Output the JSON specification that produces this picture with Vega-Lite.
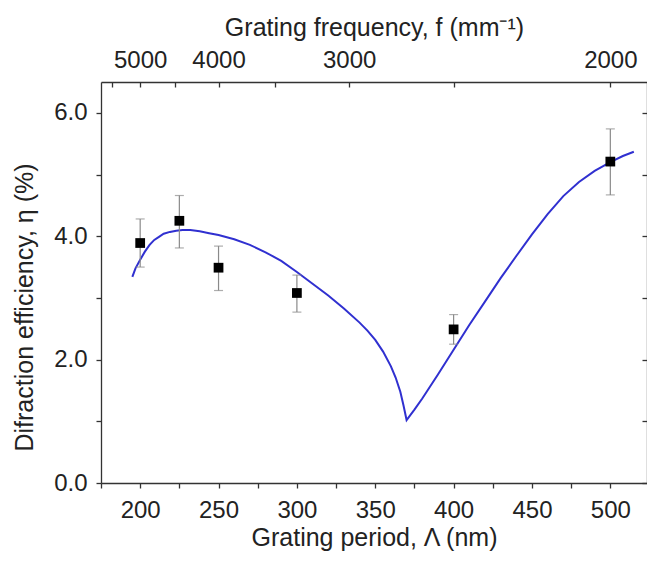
{
  "$schema": "https://vega.github.io/schema/vega-lite/v6.json",
  "autosize": {"type": "none"},
  "width": 546,
  "height": 401,
  "padding": {"left": 101, "top": 82, "right": 0, "bottom": 84},
  "background": "white",
  "config": {
    "view": {"stroke": null},
    "font": "Liberation Sans",
    "axis": {
      "labelFont": "Liberation Sans",
      "titleFont": "Liberation Sans",
      "labelFontSize": 24,
      "titleFontSize": 25,
      "titleFontWeight": "normal",
      "labelColor": "#222",
      "titleColor": "#222",
      "domainColor": "#333",
      "tickColor": "#333",
      "domainWidth": 1.3,
      "tickWidth": 1.3,
      "grid": false
    }
  },
  "datasets": {
    "curve": [
      {"period": 195, "eta": 3.34},
      {"period": 197, "eta": 3.48},
      {"period": 200, "eta": 3.62},
      {"period": 203, "eta": 3.75},
      {"period": 206, "eta": 3.86},
      {"period": 209, "eta": 3.94},
      {"period": 212, "eta": 3.99},
      {"period": 215, "eta": 4.04},
      {"period": 219, "eta": 4.07},
      {"period": 223, "eta": 4.09},
      {"period": 227, "eta": 4.10},
      {"period": 232, "eta": 4.10},
      {"period": 238, "eta": 4.08},
      {"period": 244, "eta": 4.05},
      {"period": 250, "eta": 4.02},
      {"period": 260, "eta": 3.95},
      {"period": 270, "eta": 3.86},
      {"period": 280, "eta": 3.74},
      {"period": 290, "eta": 3.60},
      {"period": 300, "eta": 3.42},
      {"period": 310, "eta": 3.23},
      {"period": 320, "eta": 3.04},
      {"period": 330, "eta": 2.83},
      {"period": 340, "eta": 2.60},
      {"period": 345, "eta": 2.47},
      {"period": 350, "eta": 2.32},
      {"period": 355, "eta": 2.13},
      {"period": 360, "eta": 1.89},
      {"period": 363, "eta": 1.71},
      {"period": 366, "eta": 1.48},
      {"period": 368, "eta": 1.26},
      {"period": 370, "eta": 1.02},
      {"period": 375, "eta": 1.19},
      {"period": 380, "eta": 1.37},
      {"period": 390, "eta": 1.76},
      {"period": 400, "eta": 2.16},
      {"period": 410, "eta": 2.56},
      {"period": 420, "eta": 2.94},
      {"period": 430, "eta": 3.32},
      {"period": 440, "eta": 3.68},
      {"period": 450, "eta": 4.03},
      {"period": 460, "eta": 4.36},
      {"period": 470, "eta": 4.65},
      {"period": 480, "eta": 4.88},
      {"period": 490, "eta": 5.06},
      {"period": 500, "eta": 5.20},
      {"period": 508, "eta": 5.30},
      {"period": 515, "eta": 5.37}
    ],
    "measured": [
      {"period": 200, "eta": 3.89, "lo": 3.50, "hi": 4.28},
      {"period": 225, "eta": 4.25, "lo": 3.81, "hi": 4.66},
      {"period": 250, "eta": 3.49, "lo": 3.12, "hi": 3.84},
      {"period": 300, "eta": 3.08, "lo": 2.77, "hi": 3.37},
      {"period": 400, "eta": 2.49, "lo": 2.25, "hi": 2.73},
      {"period": 500, "eta": 5.21, "lo": 4.67, "hi": 5.74}
    ]
  },
  "resolve": {"axis": {"x": "independent", "y": "independent"}},
  "layer": [
    {
      "data": {"name": "curve"},
      "mark": {"type": "line", "color": "#3030d0", "strokeWidth": 2, "clip": true},
      "encoding": {
        "x": {
          "field": "period", "type": "quantitative",
          "scale": {"domain": [175, 523.4], "nice": false, "zero": false},
          "axis": {
            "orient": "bottom",
            "title": "Grating period, Λ (nm)",
            "values": [175, 200, 225, 250, 275, 300, 325, 350, 375, 400, 425, 450, 475, 500],
            "labelExpr": "datum.value % 50 == 0 ? datum.label : ''",
            "tickSize": 5,
            "labelPadding": 10,
            "titlePadding": 3,
            "labelFlush": false
          }
        },
        "y": {
          "field": "eta", "type": "quantitative",
          "scale": {"domain": [0, 6.5], "nice": false},
          "axis": {
            "orient": "left",
            "title": "Difraction efficiency, η (%)",
            "values": [0, 1, 2, 3, 4, 5, 6],
            "format": ".1f",
            "labelExpr": "datum.value % 2 == 0 ? datum.label : ''",
            "tickSize": 5,
            "labelPadding": 9,
            "titleX": -77,
            "titleY": 225,
            "titleBaseline": "middle",
            "labelFlush": false
          }
        }
      }
    },
    {
      "data": {"name": "measured"},
      "mark": {"type": "rule", "color": "#8a8a8a", "strokeWidth": 1.2},
      "encoding": {
        "x": {
          "field": "period", "type": "quantitative",
          "axis": {
            "orient": "top",
            "title": "Grating frequency, f (mm⁻¹)",
            "values": [181.818, 200, 222.222, 250, 285.714, 333.333, 400, 500],
            "labelExpr": "indexof([5000, 4000, 3000, 2000], round(1000000 / datum.value)) >= 0 ? format(round(1000000 / datum.value), 'd') : ''",
            "tickSize": -5,
            "labelPadding": 15,
            "titlePadding": 8,
            "labelFlush": false
          }
        },
        "y": {
          "field": "lo", "type": "quantitative",
          "axis": {
            "orient": "right",
            "title": null,
            "values": [0, 1, 2, 3, 4, 5, 6],
            "labels": false,
            "tickSize": -5
          }
        },
        "y2": {"field": "hi"}
      }
    },
    {
      "data": {"name": "measured"},
      "mark": {"type": "tick", "orient": "horizontal", "color": "#8a8a8a", "size": 9, "thickness": 1.2},
      "encoding": {
        "x": {"field": "period", "type": "quantitative", "axis": null},
        "y": {"field": "lo", "type": "quantitative", "axis": null}
      }
    },
    {
      "data": {"name": "measured"},
      "mark": {"type": "tick", "orient": "horizontal", "color": "#8a8a8a", "size": 9, "thickness": 1.2},
      "encoding": {
        "x": {"field": "period", "type": "quantitative", "axis": null},
        "y": {"field": "hi", "type": "quantitative", "axis": null}
      }
    },
    {
      "data": {"name": "measured"},
      "mark": {"type": "square", "color": "black", "size": 95, "opacity": 1, "filled": true},
      "encoding": {
        "x": {"field": "period", "type": "quantitative", "axis": null},
        "y": {"field": "eta", "type": "quantitative", "axis": null}
      }
    }
  ]
}
